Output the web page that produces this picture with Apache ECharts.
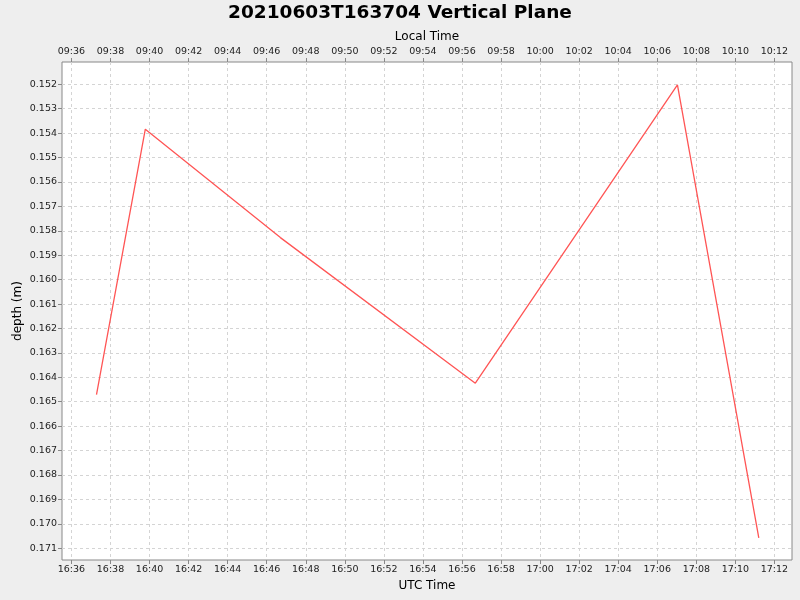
<!DOCTYPE html>
<html>
<head>
<meta charset="utf-8">
<script src="https://cdn.jsdelivr.net/npm/echarts@6/dist/echarts.min.js"></script>
<style>html,body{margin:0;padding:0;background:#eeeeee;}#c{width:800px;height:600px;}</style>
</head>
<body>
<div id="c"></div>
<script>
// Data
var utcTimes = ["16:37:17", "16:39:47", "16:46:42", "16:56:41", "17:07:02", "17:11:12"];
var depths = [0.16471, 0.15384, 0.15828, 0.16424, 0.15203, 0.17057];
var xRange = ["16:35:31", "17:12:54"];
var yRange = [0.15109, 0.17148];
var xTickLabels = ["16:36", "16:38", "16:40", "16:42", "16:44", "16:46", "16:48", "16:50", "16:52", "16:54", "16:56", "16:58",
  "17:00", "17:02", "17:04", "17:06", "17:08", "17:10", "17:12"];
var yTickLabels = ["0.152", "0.153", "0.154", "0.155", "0.156", "0.157", "0.158", "0.159", "0.160", "0.161",
  "0.162", "0.163", "0.164", "0.165", "0.166", "0.167", "0.168", "0.169", "0.170", "0.171"];
var localOffsetHours = -7;

function toMin(s) { var p = s.split(":").map(Number); return p[0] * 60 + p[1] + (p[2] || 0) / 60; }
function pad(n) { return (n < 10 ? "0" : "") + n; }
function fmt(v, off) {
  var m = Math.round(v + off * 60);
  m = ((m % 1440) + 1440) % 1440;
  return pad(Math.floor(m / 60)) + ":" + pad(m % 60);
}
var pts = utcTimes.map(function (t, i) { return [toMin(t), depths[i]]; });
var xmin = toMin(xRange[0]), xmax = toMin(xRange[1]);
var xTicks = xTickLabels.map(toMin);
var yTicks = yTickLabels.map(Number);
var font = "DejaVu Sans";
var gridLine = { show: true, lineStyle: { color: "#d4d4d4", type: [3, 3], width: 1 } };
function tickStyle(vals) { return { show: true, length: 4, inside: false, customValues: vals, lineStyle: { color: "#888888" } }; }
var lbl = { color: "#222222", fontFamily: font, fontSize: 9.5 };
var nameStyle = { fontFamily: font, fontSize: 12, color: "#000000" };

var chart = echarts.init(document.getElementById("c"));
chart.setOption({
  backgroundColor: "#eeeeee",
  animation: false,
  title: {
    text: "20210603T163704 Vertical Plane",
    left: "center", top: -1,
    textStyle: { fontFamily: font, fontSize: 18.5, fontWeight: "bold", color: "#000000" }
  },
  grid: { left: 62, right: 8, top: 62, bottom: 40, outerBoundsMode: "none", containLabel: false,
    show: true, backgroundColor: "#ffffff", borderColor: "#888888", borderWidth: 1 },
  xAxis: [
    {
      type: "value", position: "bottom", min: xmin, max: xmax,
      name: "UTC Time", nameLocation: "middle", nameGap: 20, nameMoveOverlap: false,
      nameTextStyle: nameStyle,
      axisLine: { show: false }, axisTick: tickStyle(xTicks), splitLine: gridLine,
      axisLabel: Object.assign({ customValues: xTicks, margin: 5, formatter: function (v) { return fmt(v, 0); } }, lbl)
    },
    {
      type: "value", position: "top", min: xmin, max: xmax,
      name: "Local Time", nameLocation: "middle", nameGap: 19, nameMoveOverlap: false,
      nameTextStyle: nameStyle,
      axisLine: { show: false }, axisTick: tickStyle(xTicks), splitLine: { show: false },
      axisLabel: Object.assign({ customValues: xTicks, margin: 5, formatter: function (v) { return fmt(v, localOffsetHours); } }, lbl)
    }
  ],
  yAxis: {
    type: "value", inverse: true, min: yRange[0], max: yRange[1],
    name: "depth (m)", nameLocation: "middle", nameGap: 38, nameMoveOverlap: false,
    nameTextStyle: nameStyle,
    axisLine: { show: false }, axisTick: tickStyle(yTicks), splitLine: gridLine,
    axisLabel: Object.assign({ customValues: yTicks, margin: 5, formatter: function (v) { return v.toFixed(3); } }, lbl)
  },
  series: [{
    type: "line", xAxisIndex: 0, data: pts, symbol: "none",
    lineStyle: { color: "#ff5555", width: 1.3 }
  }]
});
</script>
</body>
</html>
